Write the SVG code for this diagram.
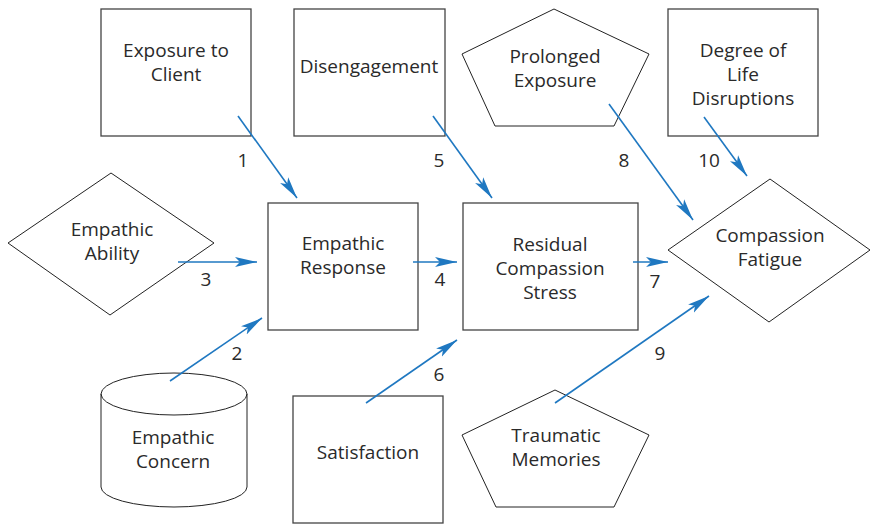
<svg xmlns="http://www.w3.org/2000/svg" width="871" height="525" viewBox="0 0 871 525">
<style>
.n{fill:#fff;stroke:#444;stroke-width:1.3}
.s{fill:#fff;stroke:#222;stroke-width:1}
.t{font-family:"Open Sans","Noto Sans",sans-serif;font-size:19px;fill:#2a2a2a;text-anchor:middle}
.c line{stroke:#1f78c1;stroke-width:1.6;marker-end:url(#ah)}
.l{font-family:"Open Sans","Noto Sans",sans-serif;font-size:19px;fill:#2a2a2a;text-anchor:middle}
</style>
<defs>
<marker id="ah" markerUnits="userSpaceOnUse" markerWidth="23" markerHeight="11" refX="22" refY="5.5" orient="auto" viewBox="0 0 23 11">
<path d="M0,0.5 L22,5.5 L0,10.5 L5,5.5 z" fill="#1f78c1"/>
</marker>
</defs>
<rect width="871" height="525" fill="#fff"/>
<g id="exposure-to-client"><rect class="n" x="101" y="9" width="150" height="127"/><text class="t" x="176" y="57">Exposure to</text><text class="t" x="176" y="81">Client</text></g>
<g id="disengagement"><rect class="n" x="294" y="9" width="151" height="127"/><text class="t" x="369" y="73">Disengagement</text></g>
<g id="prolonged-exposure"><polygon class="s" points="554,9 649,54 614,126 495,126 462,54"/><text class="t" x="555" y="63">Prolonged</text><text class="t" x="555" y="87">Exposure</text></g>
<g id="degree-of-life-disruptions"><rect class="n" x="668" y="9" width="150" height="127"/><text class="t" x="743" y="57">Degree of</text><text class="t" x="743" y="81">Life</text><text class="t" x="743" y="105">Disruptions</text></g>
<g id="empathic-ability"><polygon class="s" points="111,173 214,243 110,315 8,243"/><text class="t" x="112" y="236">Empathic</text><text class="t" x="112" y="260">Ability</text></g>
<g id="empathic-response"><rect class="n" x="268" y="203" width="150" height="127"/><text class="t" x="343" y="250">Empathic</text><text class="t" x="343" y="274">Response</text></g>
<g id="residual-compassion-stress"><rect class="n" x="463" y="203" width="175" height="127"/><text class="t" x="550" y="251">Residual</text><text class="t" x="550" y="275">Compassion</text><text class="t" x="550" y="299">Stress</text></g>
<g id="compassion-fatigue"><polygon class="s" points="770,179 870,250 769,322 668,250"/><text class="t" x="770" y="242">Compassion</text><text class="t" x="770" y="266">Fatigue</text></g>
<g id="empathic-concern"><path class="s" d="M101,394 L101,487 A73,20 0 0 0 247,487 L247,394 A73,21 0 0 0 101,394 A73,21 0 0 0 247,394"/><text class="t" x="173" y="444">Empathic</text><text class="t" x="173" y="468">Concern</text></g>
<g id="satisfaction"><rect class="n" x="293" y="396" width="150" height="127"/><text class="t" x="368" y="459">Satisfaction</text></g>
<g id="traumatic-memories"><polygon class="s" points="555,390 649,435 614,507 496,507 462,435"/><text class="t" x="556" y="442">Traumatic</text><text class="t" x="556" y="466">Memories</text></g>
<g id="connectors" class="c">
<line x1="238" y1="116" x2="297" y2="198"/>
<line x1="170" y1="381" x2="262" y2="318"/>
<line x1="178" y1="262" x2="257" y2="262"/>
<line x1="413" y1="262" x2="457" y2="262"/>
<line x1="433" y1="116" x2="492" y2="198"/>
<line x1="366" y1="403" x2="457" y2="340"/>
<line x1="633" y1="262" x2="668" y2="262"/>
<line x1="609" y1="104" x2="693" y2="220"/>
<line x1="555" y1="403" x2="709" y2="296"/>
<line x1="704" y1="117" x2="747" y2="176"/>
</g>
<g id="labels">
<text class="l" x="243" y="167">1</text>
<text class="l" x="237" y="360">2</text>
<text class="l" x="206" y="286">3</text>
<text class="l" x="440" y="286">4</text>
<text class="l" x="439" y="167">5</text>
<text class="l" x="439" y="381">6</text>
<text class="l" x="655" y="288">7</text>
<text class="l" x="624" y="167">8</text>
<text class="l" x="660" y="360">9</text>
<text class="l" x="709" y="167">10</text>
</g>
</svg>
